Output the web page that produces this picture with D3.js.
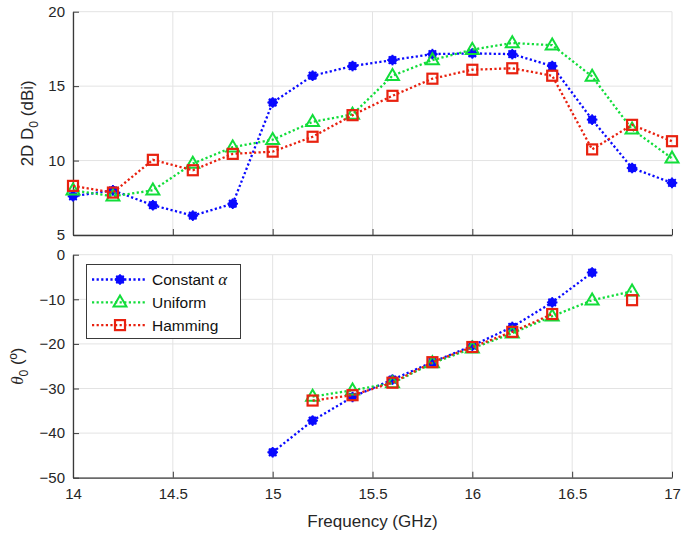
<!DOCTYPE html>
<html>
<head>
<meta charset="utf-8">
<script src="https://cdn.jsdelivr.net/npm/d3@7/dist/d3.min.js"></script>
<style>
  html, body { margin: 0; padding: 0; background: #fff; }
  svg { display: block; font-family: "Liberation Sans", Arial, sans-serif; }
</style>
</head>
<body>
<svg id="chart" width="694" height="534"></svg>
<script>
// Frequency sweep (GHz)
const freq = [14, 14.2, 14.4, 14.6, 14.8, 15, 15.2, 15.4, 15.6, 15.8, 16, 16.2, 16.4, 16.6, 16.8, 17];

// 2D directivity D0 (dBi)
const dirConstant = [7.6, 8.0, 7.0, 6.3, 7.1, 13.9, 15.7, 16.35, 16.75, 17.15, 17.2, 17.15, 16.35, 12.75, 9.5, 8.5];
const dirUniform  = [8.0, 7.6, 8.0, 9.8, 10.9, 11.4, 12.6, 13.1, 15.7, 16.75, 17.45, 17.9, 17.75, 15.65, 12.1, 10.15];
const dirHamming  = [8.3, 7.85, 10.05, 9.35, 10.45, 10.6, 11.6, 13.05, 14.35, 15.5, 16.1, 16.2, 15.7, 10.75, 12.4, 11.3];

// Beam direction theta0 (deg); null where no beam was extracted
const angConstant = [null, null, null, null, null, -44.3, -37.2, -31.9, -28.0, -24.1, -20.4, -16.2, -10.7, -4.0, null, null];
const angUniform  = [null, null, null, null, null, null, -31.8, -30.4, -28.8, -24.3, -21.0, -17.6, -13.8, -10.2, -8.2, null];
const angHamming  = [null, null, null, null, null, null, -32.7, -31.5, -28.7, -24.1, -20.7, -17.3, -13.3, null, -10.2, null];

const xTicks = [14, 14.5, 15, 15.5, 16, 16.5, 17];
const topTicks = [5, 10, 15, 20];
const botTicks = [-50, -40, -30, -20, -10, 0];

const seriesInfo = [
  { name: "Constant", color: "#0a0aff", marker: "star", dir: dirConstant, ang: angConstant },
  { name: "Uniform",  color: "#12dd3a", marker: "triangle", dir: dirUniform, ang: angUniform },
  { name: "Hamming",  color: "#e8210f", marker: "square", dir: dirHamming, ang: angHamming }
];

const svg = d3.select("#chart");
const axisColor = "#3a3a3a";
const gridColor = "#e3e3e3";

const x = d3.scaleLinear().domain([14, 17]).range([73, 672]);
const yTop = d3.scaleLinear().domain([5, 20]).range([235, 11.7]);
const yBot = d3.scaleLinear().domain([-50, 0]).range([477.7, 254.7]);

function drawPanel(y, yticks, showXLabels) {
  const g = svg.append("g");
  const [y0, y1] = y.range();
  // grid
  g.selectAll(".gx").data(xTicks).enter().append("line")
    .attr("x1", d => x(d)).attr("x2", d => x(d))
    .attr("y1", y0).attr("y2", y1)
    .attr("stroke", gridColor).attr("stroke-width", 1);
  g.selectAll(".gy").data(yticks).enter().append("line")
    .attr("x1", x(14)).attr("x2", x(17))
    .attr("y1", d => y(d)).attr("y2", d => y(d))
    .attr("stroke", gridColor).attr("stroke-width", 1);

  // left axis
  const left = d3.axisLeft(y).tickValues(yticks).tickSizeInner(-6).tickSizeOuter(0).tickPadding(8)
    .tickFormat(d3.format("d"));
  const gl = g.append("g").attr("transform", `translate(${x(14)},0)`).call(left);
  // bottom axis
  const bottom = d3.axisBottom(x).tickValues(xTicks).tickSizeInner(-6).tickSizeOuter(0).tickPadding(11)
    .tickFormat(showXLabels ? (d => d3.format("")(d)) : () => "");
  const gb = g.append("g").attr("transform", `translate(0,${y0})`).call(bottom);

  [gl, gb].forEach(a => {
    a.select(".domain").attr("stroke", axisColor).attr("stroke-width", 1.3);
    a.selectAll(".tick line").attr("stroke", axisColor).attr("stroke-width", 1);
    a.selectAll(".tick text").attr("fill", "#262626")
      .style("font-size", "15px").style("font-family", "\"Liberation Sans\", Arial, sans-serif");
  });
  return g;
}

function markerPath(g, type, color, cx, cy) {
  if (type === "star") {
    g.append("circle").attr("cx", cx).attr("cy", cy).attr("r", 4.5).attr("fill", color);
    const r = 5.3;
    for (let k = 0; k < 4; k++) {
      const a = k * Math.PI / 4;
      g.append("line")
        .attr("x1", cx - r * Math.cos(a)).attr("y1", cy - r * Math.sin(a))
        .attr("x2", cx + r * Math.cos(a)).attr("y2", cy + r * Math.sin(a))
        .attr("stroke", color).attr("stroke-width", 1.8);
    }
  } else if (type === "triangle") {
    const s = 6.8;
    const pts = [[cx, cy - s], [cx - s * 0.95, cy + s * 0.62], [cx + s * 0.95, cy + s * 0.62]];
    g.append("polygon").attr("points", pts.map(p => p.join(",")).join(" "))
      .attr("fill", "none").attr("stroke", color).attr("stroke-width", 2);
  } else {
    const s = 5;
    g.append("rect").attr("x", cx - s).attr("y", cy - s).attr("width", 2 * s).attr("height", 2 * s)
      .attr("fill", "none").attr("stroke", color).attr("stroke-width", 2.2);
  }
}

function drawSeries(y, key) {
  seriesInfo.forEach(s => {
    const pts = freq.map((f, i) => ({ f, v: s[key][i] }));
    const line = d3.line().defined(d => d.v !== null).x(d => x(d.f)).y(d => y(d.v));
    svg.append("path").datum(pts).attr("d", line)
      .attr("fill", "none").attr("stroke", s.color).attr("stroke-width", 2.3)
      .attr("stroke-dasharray", "2.2,2.4");
    const mg = svg.append("g");
    pts.filter(d => d.v !== null).forEach(d => markerPath(mg, s.marker, s.color, x(d.f), y(d.v)));
  });
}

drawPanel(yTop, topTicks, false);
drawSeries(yTop, "dir");
drawPanel(yBot, botTicks, true);
drawSeries(yBot, "ang");

// axis titles
const topLabel = svg.append("text")
  .attr("transform", `translate(33,${(yTop(5) + yTop(20)) / 2}) rotate(-90)`)
  .attr("text-anchor", "middle").attr("fill", "#262626").style("font-size", "17px");
topLabel.append("tspan").text("2D D");
topLabel.append("tspan").attr("dy", 4.5).style("font-size", "12px").text("0");
topLabel.append("tspan").attr("dy", -4.5).text(" (dBi)");

const botLabel = svg.append("text")
  .attr("transform", `translate(23,${(yBot(-50) + yBot(0)) / 2}) rotate(-90)`)
  .attr("text-anchor", "middle").attr("fill", "#262626").style("font-size", "17px");
botLabel.append("tspan").style("font-family", "\"Liberation Serif\", serif").style("font-style", "italic").text("θ");
botLabel.append("tspan").attr("dy", 4.5).style("font-size", "12px").text("0");
botLabel.append("tspan").attr("dy", -4.5).text(" (º)");

svg.append("text").attr("x", (x(14) + x(17)) / 2).attr("y", 527)
  .attr("text-anchor", "middle").attr("fill", "#262626").style("font-size", "17px")
  .text("Frequency (GHz)");

// legend
const lg = svg.append("g");
lg.append("rect").attr("x", 86.5).attr("y", 264.5).attr("width", 154).attr("height", 74)
  .attr("fill", "#fff").attr("stroke", axisColor).attr("stroke-width", 1);
seriesInfo.forEach((s, i) => {
  const cy = 279.5 + i * 22.8;
  lg.append("line").attr("x1", 92).attr("x2", 146).attr("y1", cy).attr("y2", cy)
    .attr("stroke", s.color).attr("stroke-width", 2.3).attr("stroke-dasharray", "2.2,2.4");
  markerPath(lg, s.marker, s.color, 120, cy);
  const t = lg.append("text").attr("x", 152).attr("y", cy + 5.5).attr("fill", "#111")
    .style("font-size", "15.5px");
  t.append("tspan").text(s.name);
  if (s.marker === "star") {
    t.append("tspan").style("font-family", "\"Liberation Serif\", serif").style("font-style", "italic")
      .style("font-size", "17px").text(" α");
  }
});
</script>
</body>
</html>
